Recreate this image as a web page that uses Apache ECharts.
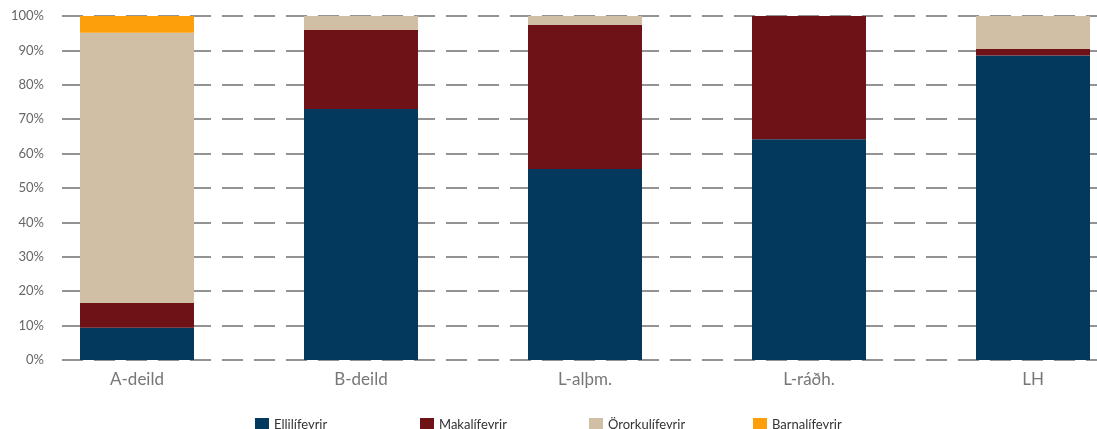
<!DOCTYPE html>
<html>
<head>
<meta charset="utf-8">
<script src="https://cdn.jsdelivr.net/npm/echarts@6/dist/echarts.min.js"></script>
<style>
  html, body { margin: 0; padding: 0; background: #fff; }
  #chart { width: 1097px; height: 429px; }
</style>
</head>
<body>
<div id="chart"></div>
<script>
  // flokkar og gildi (% af heild)
  const categories = ['A-deild', 'B-deild', 'L-alþm.', 'L-ráðh.', 'LH']
  const seriesNames = ['Ellilífeyrir', 'Makalífeyrir', 'Örorkulífeyrir', 'Barnalífeyrir']
  const ellilifeyrir = [9.4, 73.0, 55.5, 64.2, 88.5]
  const makalifeyrir = [7.2, 22.9, 41.9, 35.8, 1.9]
  const ororkulifeyrir = [78.5, 4.1, 2.6, 0, 9.6]
  const barnalifeyrir = [4.9, 0, 0, 0, 0]
  const yTicks = [0, 10, 20, 30, 40, 50, 60, 70, 80, 90, 100]

  const colors = ['#03395D', '#6E1218', '#D0BFA5', '#FC9F0B']
  const font = 'Lato, "Open Sans", sans-serif'
  const legendLeft = [250, 415, 584, 748]

  let chart = echarts.init(document.getElementById('chart'))

  function barSeries (name, data) {
    return {
      name: name,
      type: 'bar',
      stack: 'total',
      xAxisIndex: 0,
      yAxisIndex: 0,
      barWidth: 114,
      data: data
    }
  }

  // one legend per item so the spacing matches the original
  let legends = seriesNames.map(function (name, i) {
    return {
      left: legendLeft[i],
      top: 413,
      icon: 'rect',
      itemWidth: 14,
      itemHeight: 14,
      textStyle: { fontSize: 13, color: '#333', fontFamily: font },
      data: [name]
    }
  })

  chart.setOption({
    animation: false,
    color: colors,
    textStyle: { fontFamily: font },
    grid: [
      // bars: 5 bands of 224px, first centred at x=137 (runs past the right edge)
      { left: 25, width: 1120, top: 16, bottom: 69, outerBoundsMode: 'none', containLabel: false },
      // gridlines + y labels
      { left: 62, right: 0, top: 16, bottom: 69, outerBoundsMode: 'none' }
    ],
    legend: legends,
    xAxis: [
      {
        type: 'category',
        gridIndex: 0,
        data: categories,
        axisLine: { show: false },
        axisTick: { show: false },
        axisLabel: { fontSize: 17, color: '#777', margin: 11, fontFamily: font }
      },
      { type: 'value', gridIndex: 1, min: 0, max: 1, show: false }
    ],
    yAxis: [
      { type: 'value', gridIndex: 0, min: 0, max: 100, show: false },
      {
        type: 'value',
        gridIndex: 1,
        min: yTicks[0],
        max: yTicks[yTicks.length - 1],
        interval: 10,
        axisLine: { show: false },
        axisTick: { show: false },
        axisLabel: { formatter: '{value}%', fontSize: 13, color: '#666', margin: 18, fontFamily: font },
        splitLine: { lineStyle: { color: '#707070', width: 1.5, type: [21, 11] } }
      }
    ],
    series: [
      barSeries(seriesNames[0], ellilifeyrir),
      barSeries(seriesNames[1], makalifeyrir),
      barSeries(seriesNames[2], ororkulifeyrir),
      barSeries(seriesNames[3], barnalifeyrir)
    ]
  })
</script>
</body>
</html>
